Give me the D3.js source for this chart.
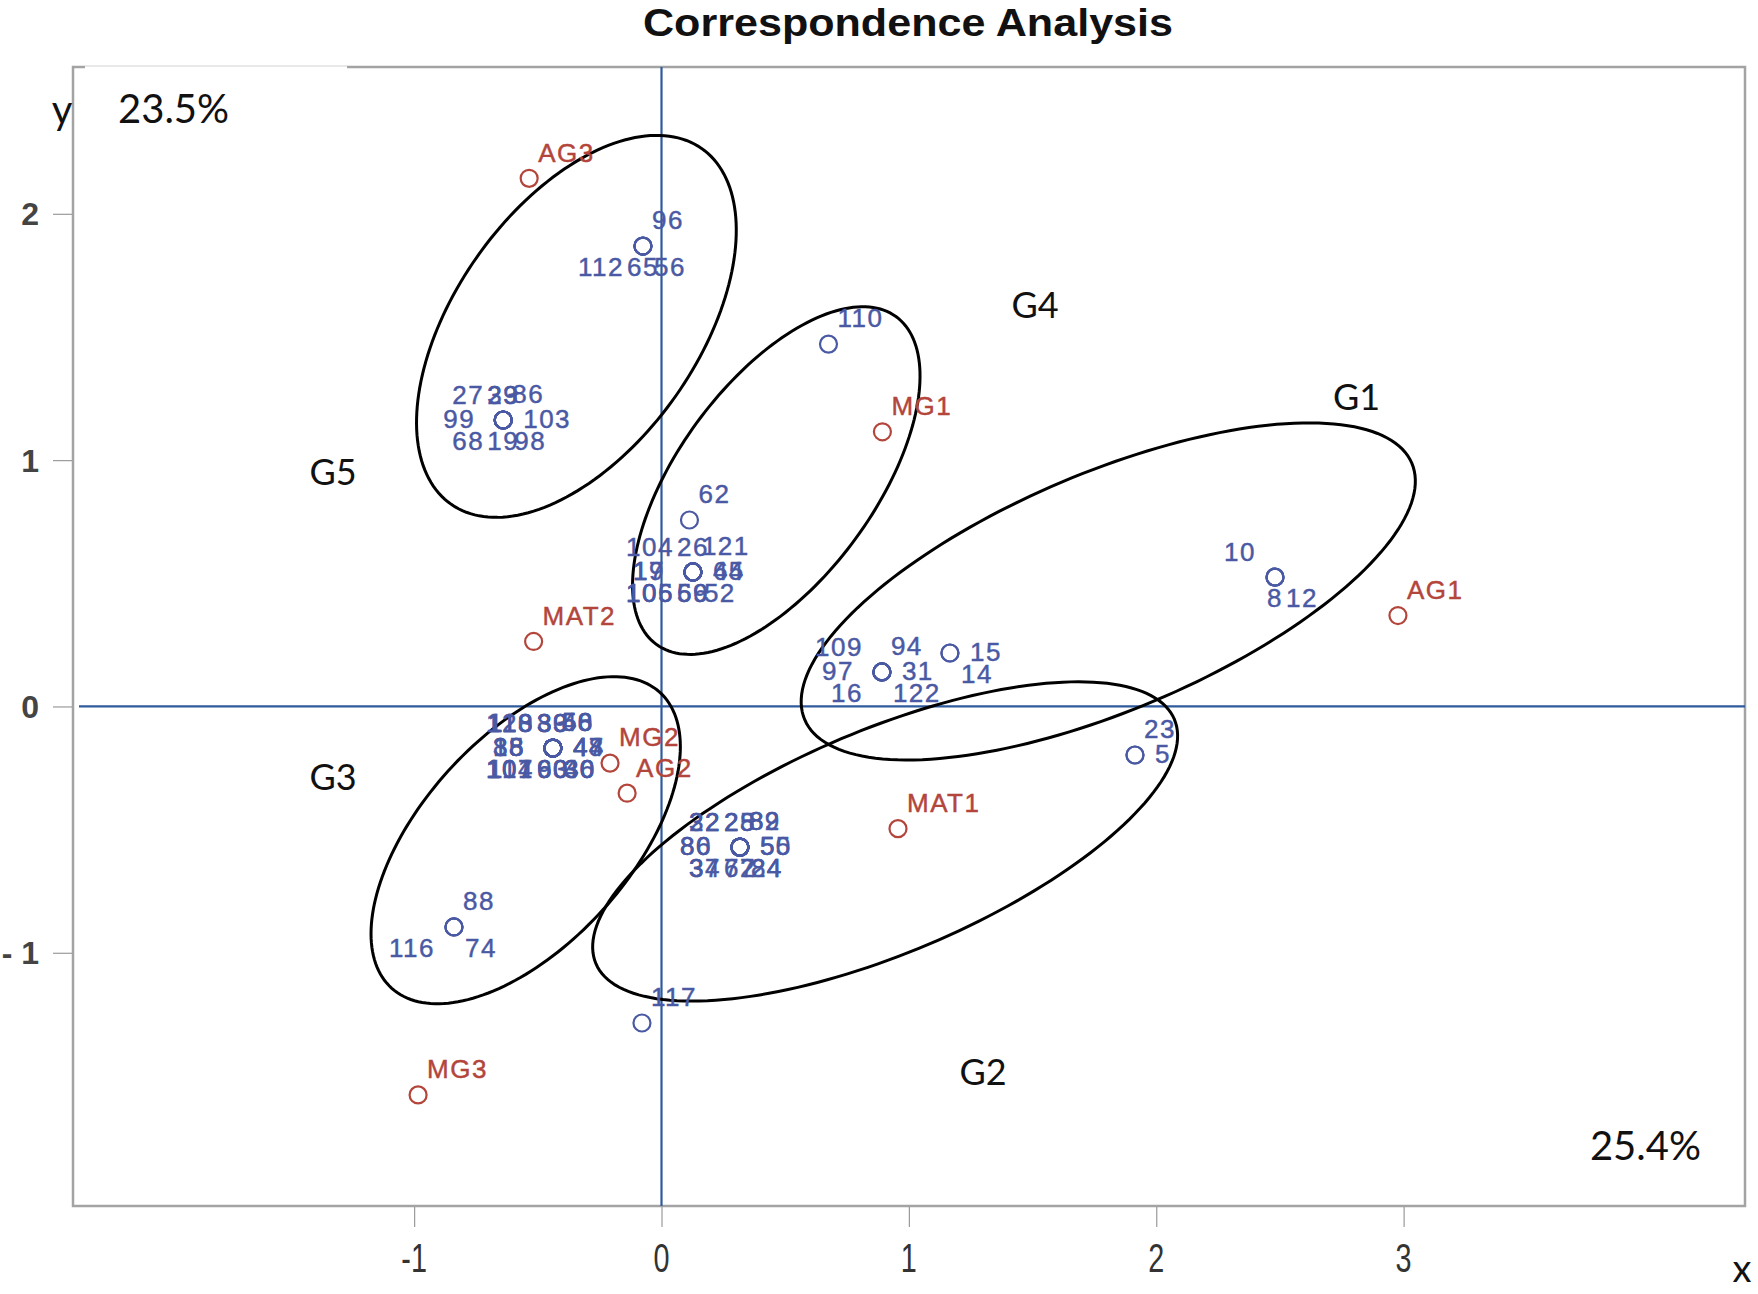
<!DOCTYPE html>
<html lang="en">
<head>
<meta charset="UTF-8">
<title>Correspondence Analysis</title>
<script src="https://d3js.org/d3.v7.min.js"></script>
<style>
  body { margin: 0; background: #fff; }
  svg { display: block; }
  .title { font-family: "Liberation Sans", Arial, sans-serif; font-weight: bold; fill: #111; }
  .ptlabel { font-family: "Liberation Sans", Arial, sans-serif; font-size: 26px; letter-spacing: 1.5px; stroke-width: 0.45px; }
  .note { font-family: Lato, "Open Sans", sans-serif; fill: #111; }
  .ytick { font-family: "Liberation Sans", Arial, sans-serif; font-weight: bold; font-size: 32px; fill: #444; }
  .xtick { font-family: "Liberation Sans", Arial, sans-serif; font-size: 40px; fill: #333; }
</style>
</head>
<body>
<svg width="1758" height="1294"></svg>
<script>
// column points (red)
const colLabels = ["AG1", "AG2", "AG3", "MG1", "MG2", "MG3", "MAT1", "MAT2"];
const colX = [2.977, -0.139, -0.535, 0.893, -0.208, -0.984, 0.956, -0.517];
const colY = [0.369, -0.352, 2.144, 1.115, -0.230, -1.577, -0.496, 0.264];

// row points (blue): several observations share the same coordinates
const rowSiteX = [-0.075, -0.640, 0.675, 0.113, 0.127, 0.891, 1.166, 1.914, 2.480, -0.439, 0.317, -0.839, -0.079];
const rowSiteY = [1.869, 1.163, 1.471, 0.757, 0.546, 0.140, 0.217, -0.197, 0.525, -0.169, -0.571, -0.895, -1.285];
const rowSiteIds = [
  ["96", "112", "65", "56"],
  ["27", "29", "33", "86", "99", "103", "68", "19", "98"],
  ["110"],
  ["62"],
  ["104", "26", "121", "17", "19", "64", "45", "106", "105", "69", "56", "52"],
  ["109", "94", "97", "31", "16", "122"],
  ["15", "14"],
  ["23", "5"],
  ["10", "8", "12"],
  ["118", "113", "120", "33", "39", "80", "50", "58", "46", "18", "38", "85",
   "44", "48", "47", "101", "107", "114", "60", "63", "90", "30", "36", "40"],
  ["22", "32", "25", "28", "89", "82", "80", "86", "55", "50", "37", "34", "67", "72", "24", "84"],
  ["88", "116", "74"],
  ["117"]
];
const rowSitePos = [
  ["TR", "BL", "B", "BR"],
  ["TL", "T", "T", "TR", "L", "R", "BL", "B", "BR"],
  ["TR"],
  ["TR"],
  ["TL", "T", "TR", "L", "L", "R", "R", "BL", "BL", "B", "B", "BR"],
  ["TL", "TR", "L", "R", "BL", "BR"],
  ["R", "BR"],
  ["TR", "R"],
  ["TL", "B", "BR"],
  ["TL", "TL", "TL", "T", "T", "T", "TR", "TR", "TR", "L", "L", "L",
   "R", "R", "R", "BL", "BL", "BL", "B", "B", "B", "BR", "BR", "BR"],
  ["TL", "TL", "T", "T", "TR", "TR", "L", "L", "R", "R", "BL", "BL", "B", "B", "BR", "BR"],
  ["TR", "BL", "BR"],
  ["TR"]
];

// cluster ellipses (data units, angle in degrees)
const groupNames = ["G1", "G2", "G3", "G4", "G5"];
const groupCx = [1.806, 0.904, -0.549, 0.464, -0.344];
const groupCy = [0.467, -0.548, -0.543, 0.917, 1.543];
const groupA = [1.333, 1.270, 0.809, 0.823, 0.882];
const groupB = [0.482, 0.453, 0.421, 0.398, 0.491];
const groupAngle = [23, 23, 48, 54, 55];
const groupLabelX = [2.810, 1.300, -1.328, 1.510, -1.328];
const groupLabelY = [1.258, -1.486, -0.287, 1.628, 0.952];

const xTicks = [-1, 0, 1, 2, 3];
const yTicks = [-1, 0, 1, 2];
const xInertia = "25.4%";
const yInertia = "23.5%";

const W = 1758, H = 1294;
const plot = { left: 73, right: 1745, top: 67, bottom: 1206 };

const x = d3.scaleLinear().domain([-2.379, 4.380]).range([plot.left, plot.right]);
const y = d3.scaleLinear().domain([-2.028, 2.596]).range([plot.bottom, plot.top]);

const blue = "#4a59a3", red = "#b3453b", refColor = "#2f5a9b";

const svg = d3.select("svg");

// title
svg.append("text").attr("class", "title")
  .attr("x", 908).attr("y", 36)
  .attr("text-anchor", "middle")
  .attr("font-size", 38)
  .attr("textLength", 530).attr("lengthAdjust", "spacingAndGlyphs")
  .text("Correspondence Analysis");

// frame
svg.append("rect")
  .attr("x", plot.left).attr("y", plot.top)
  .attr("width", plot.right - plot.left).attr("height", plot.bottom - plot.top)
  .attr("fill", "none").attr("stroke", "#a3a3a3").attr("stroke-width", 2.5);

// pasted white box over top-left of the frame
svg.append("rect").attr("x", 85).attr("y", 62).attr("width", 262).attr("height", 9).attr("fill", "#fff");
svg.append("line").attr("x1", 85).attr("x2", 347).attr("y1", 66).attr("y2", 66)
  .attr("stroke", "#e2e2e2").attr("stroke-width", 1.5);

// axes
svg.append("g")
  .attr("transform", `translate(0,${plot.bottom + 1})`)
  .call(d3.axisBottom(x).tickValues(xTicks).tickSize(20).tickFormat(""));
svg.append("g")
  .attr("transform", `translate(${plot.left - 1},0)`)
  .call(d3.axisLeft(y).tickValues(yTicks).tickSize(19).tickFormat(""));
svg.selectAll(".domain").remove();
svg.selectAll(".tick line").attr("stroke", "#9a9a9a").attr("stroke-width", 1.2);

svg.append("g").selectAll("text").data(xTicks).join("text")
  .attr("class", "xtick")
  .attr("transform", d => `translate(${x(d)},1272) scale(0.72,1)`)
  .attr("text-anchor", "middle")
  .text(d => d);

svg.append("g").selectAll("text").data(yTicks).join("text")
  .attr("class", "ytick")
  .attr("x", 39).attr("y", d => y(d))
  .attr("dy", "0.36em")
  .attr("text-anchor", "end")
  .text(d => d === -1 ? "- 1" : d);

// reference lines at 0
svg.append("line")
  .attr("x1", x(0)).attr("x2", x(0)).attr("y1", plot.top).attr("y2", plot.bottom)
  .attr("stroke", refColor).attr("stroke-width", 2.2);
svg.append("line")
  .attr("x1", plot.left + 6).attr("x2", plot.right).attr("y1", y(0)).attr("y2", y(0))
  .attr("stroke", refColor).attr("stroke-width", 2.2);

// ellipses
const ellipseLine = d3.line().curve(d3.curveLinearClosed);
groupNames.forEach((g, i) => {
  const th = groupAngle[i] * Math.PI / 180;
  const pts = d3.range(0, 360, 2).map(deg => {
    const t = deg * Math.PI / 180;
    const ex = groupCx[i] + groupA[i] * Math.cos(th) * Math.cos(t) - groupB[i] * Math.sin(th) * Math.sin(t);
    const ey = groupCy[i] + groupA[i] * Math.sin(th) * Math.cos(t) + groupB[i] * Math.cos(th) * Math.sin(t);
    return [x(ex), y(ey)];
  });
  svg.append("path")
    .attr("d", ellipseLine(pts))
    .attr("fill", "none").attr("stroke", "#000").attr("stroke-width", 3);
  svg.append("text").attr("class", "note")
    .attr("x", x(groupLabelX[i])).attr("y", y(groupLabelY[i]))
    .attr("dy", "0.36em").attr("text-anchor", "middle")
    .attr("font-size", 36)
    .text(g);
});

// label placement around a marker
const offsets = {
  TR: { dx: 9, dy: -26, anchor: "start" },
  TL: { dx: -19, dy: -25, anchor: "end" },
  BR: { dx: 11, dy: 21, anchor: "start" },
  BL: { dx: -19, dy: 21, anchor: "end" },
  R:  { dx: 20, dy: -1, anchor: "start" },
  L:  { dx: -28, dy: -1, anchor: "end" },
  B:  { dx: 0, dy: 21, anchor: "middle" },
  T:  { dx: 0, dy: -25, anchor: "middle" }
};

const rows = [];
rowSiteIds.forEach((ids, i) => {
  ids.forEach((id, j) => rows.push({ id, x: rowSiteX[i], y: rowSiteY[i], pos: rowSitePos[i][j] }));
});
const cols = colLabels.map((id, i) => ({ id, x: colX[i], y: colY[i], pos: "TR" }));

function drawPoints(data, color) {
  const g = svg.append("g");
  g.selectAll("circle").data(data).join("circle")
    .attr("cx", d => x(d.x)).attr("cy", d => y(d.y))
    .attr("r", 8.5)
    .attr("fill", "none").attr("stroke", color).attr("stroke-width", 2.2);
  g.selectAll("text").data(data).join("text")
    .attr("class", "ptlabel")
    .attr("x", d => x(d.x) + offsets[d.pos].dx)
    .attr("y", d => y(d.y) + offsets[d.pos].dy)
    .attr("dy", "0.36em")
    .attr("text-anchor", d => offsets[d.pos].anchor)
    .attr("fill", color)
    .attr("stroke", color)
    .text(d => d.id);
}
drawPoints(rows, blue);
drawPoints(cols, red);

// axis letters and inertia notes
svg.append("text").attr("class", "note").attr("x", 62).attr("y", 110)
  .attr("dy", "0.36em").attr("text-anchor", "middle").attr("font-size", 40).text("y");
svg.append("text").attr("class", "note").attr("x", 118).attr("y", 109)
  .attr("dy", "0.36em").attr("font-size", 40).text(yInertia);
svg.append("text").attr("class", "note").attr("x", 1742).attr("y", 1268)
  .attr("dy", "0.36em").attr("text-anchor", "middle").attr("font-size", 38).text("x");
svg.append("text").attr("class", "note").attr("x", 1701).attr("y", 1146)
  .attr("dy", "0.36em").attr("text-anchor", "end").attr("font-size", 40).text(xInertia);
</script>
</body>
</html>
